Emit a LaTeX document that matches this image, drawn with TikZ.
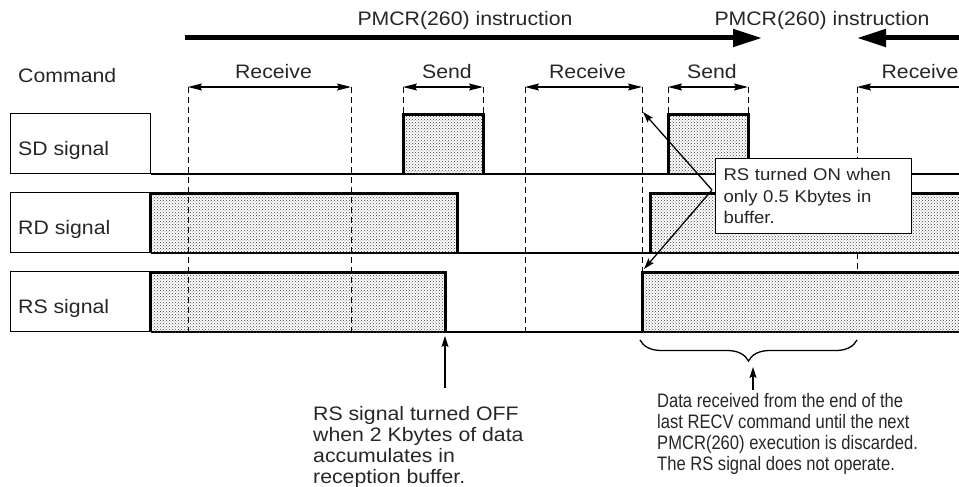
\documentclass[tikz,border=0pt]{standalone}
\usepackage{fontspec}
\setmainfont{Liberation Sans}[FakeStretch=1.09]
\newfontfamily\condfont{Liberation Sans}[FakeStretch=0.85]
\usepackage{tikz}
\usetikzlibrary{arrows.meta,patterns,decorations.pathreplacing}

\begin{document}
\begin{tikzpicture}[x=1pt, y=-1pt,
      txt/.style={font=\fontsize{19.5}{21}\selectfont, inner sep=0pt, text=black!85},
      note/.style={draw, line width=1.2pt, fill=white, font=\fontsize{17}{21.5}\selectfont,
        text=black!85, align=left, text width=180pt, inner xsep=8pt, inner ysep=0pt, minimum height=75pt},
      rowbox/.style={draw, line width=1.2pt, minimum width=140pt, minimum height=60pt, inner sep=0pt},
      baseline/.style={line width=1.2pt},
      pulse/.style={line width=3pt},
      stip/.style={pattern=crosshatch dots, pattern color=black!75},
      guide/.style={dash pattern=on 6pt off 4pt, line width=1pt},
      dim/.style={<->, >={Stealth[length=14pt,width=7pt,inset=2pt]}, line width=1.3pt},
      dimr/.style={->, >={Stealth[length=14pt,width=7pt,inset=2pt]}, line width=1.3pt},
      arr/.style={->, >={Stealth[length=11pt,width=7pt,inset=2pt]}, line width=1.3pt},
      bigarr/.style={->, >={Triangle[length=29pt,width=17pt]}, line width=5pt},
      brc/.style={line width=1.3pt, decorate, decoration={brace, mirror, amplitude=21pt}}]
    \useasboundingbox (0,0) rectangle (959,487);

    % PMCR(260) instruction spans
    \coordinate (i1s) at (185,38);
    \coordinate (i1e) at (762,38);
    \coordinate (i2s) at (959,38);
    \coordinate (i2e) at (857,38);
    \draw[bigarr] (i1s) -- (i1e);
    \draw[bigarr] (i2s) -- (i2e);
    \node[txt, anchor=base] (pmcr1) at (465,26) {PMCR(260) instruction};
    \node[txt, anchor=base] (pmcr2) at (822,26) {PMCR(260) instruction};

    \node[txt, anchor=base west] (cmd) at (18,83) {Command};

    % signal rows
    \foreach \n/\yb/\t in {sd/174/SD signal, rd/253/RD signal, rs/332/RS signal} {
      \node[rowbox, anchor=south west] (\n box) at (10,\yb) {};
      \node[txt, anchor=base west] (\n lab) at (18,\yb-19) {\t};
      \draw[baseline] (\n box.south east) -- (959,\yb);
    }

    % pulses
    \foreach \a/\b/\yb in {403/483/174, 668/748/174, 150/457/253, 150/445/332} {
      \fill[stip] (\a,\yb) rectangle (\b,\yb-60);
      \draw[pulse] (\a,\yb) |- (\b,\yb-60) -- (\b,\yb);
    }
    \fill[stip] (650,253) rectangle (959,193);
    \draw[pulse] (650,253) |- (959,193);
    \fill[stip] (642,332) rectangle (959,272);
    \draw[pulse] (642,332) |- (959,272);

    % command windows
    \foreach \x/\ye in {188/332, 351/332, 403/114, 483/114, 525/332, 642/271, 668/114, 748/114, 857/192} {
      \draw[guide] (\x,87) -- (\x,\ye);
    }
    \draw[guide] (857,253) -- (857,271);
    \foreach \a/\b/\t [count=\i] in {188/351/Receive, 403/483/Send, 525/642/Receive, 668/748/Send} {
      \coordinate (dl\i) at (\a,87);
      \coordinate (dr\i) at (\b,87);
      \draw[dim] (dl\i) -- (dr\i);
      \node[txt, anchor=base] (dt\i) at ({(\a+\b)/2+4},79) {\t};
    }
    \coordinate (dl5) at (857,87);
    \coordinate (dr5) at (959,87);
    \draw[dimr] (dr5) -- (dl5);
    \node[txt, anchor=base] (dt5) at (920,79) {Receive};

    % RS ON note
    \node[note, anchor=north west] (note) at (715,158) {RS turned ON when\\only 0.5 Kbytes in\\buffer.};
    \coordinate (src) at (712,190);
    \coordinate (upTip) at (643,112);
    \coordinate (dnTip) at (644,269);
    \draw[arr] (src) -- (upTip);
    \draw[arr] (src) -- (dnTip);

    % RS OFF
    \coordinate (offTail) at (445,388);
    \coordinate (offTip) at (445,336);
    \draw[arr] (offTail) -- (offTip);
    \node[txt, anchor=north west, align=left] (offTxt) at (313,406)
      {RS signal turned OFF\\when 2 Kbytes of data\\accumulates in\\reception buffer.};

    % discarded data
    \coordinate (brL) at (640,340);
    \coordinate (brR) at (857,340);
    \draw[brc] (brL) -- (brR);
    \coordinate (lostTail) at (753,390);
    \coordinate (lostTip) at (753,367);
    \draw[arr] (lostTail) -- (lostTip);
    \node[txt, font=\condfont\fontsize{19.5}{21}\selectfont, anchor=north west, align=left] (lostTxt) at (657,393)
      {Data received from the end of the\\last RECV command until the next\\PMCR(260) execution is discarded.\\The RS signal does not operate.};
  \end{tikzpicture}
\end{document}
